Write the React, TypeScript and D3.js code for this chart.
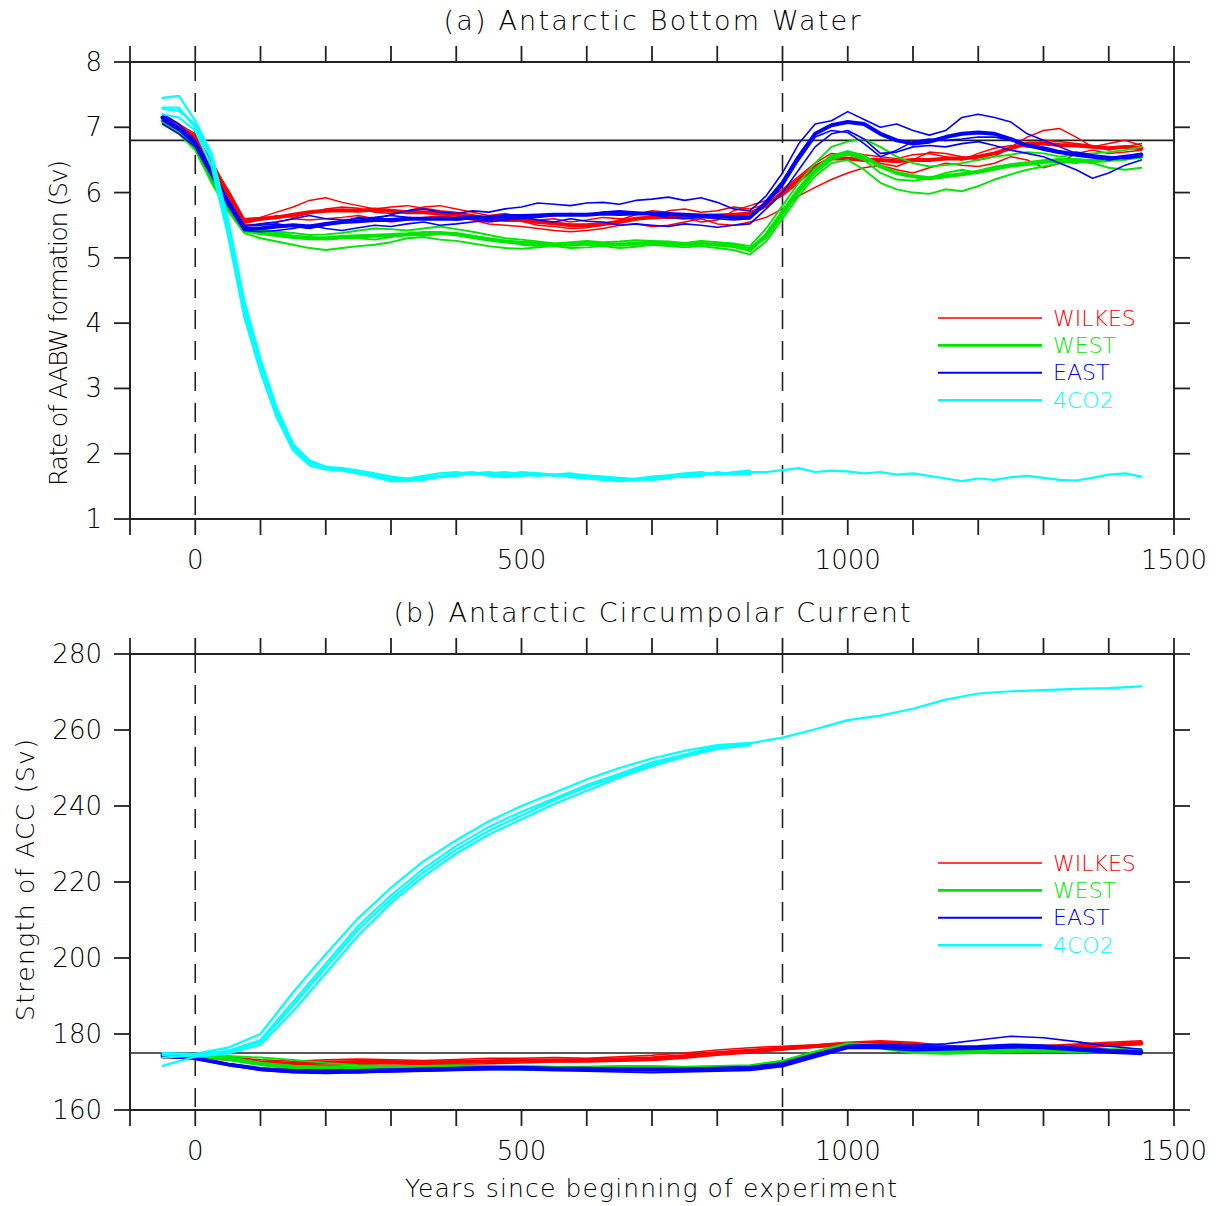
import * as d3 from "d3";

const FONT = "'DejaVu Sans', sans-serif";

// years since beginning of experiment
const X_DOMAIN: [number, number] = [-100, 1500];
const X_TICKS = [-100, 0, 100, 200, 300, 400, 500, 600, 700, 800, 900, 1000, 1100, 1200, 1300, 1400, 1500];
const X_LABELS = [0, 500, 1000, 1500];
const EVENT_YEARS = [0, 900];

const EXPERIMENTS = ["WILKES", "WEST", "EAST", "4CO2"];
const COLORS: Record<string, string> = {
  WILKES: "#ff0000",
  WEST: "#00e600",
  EAST: "#0000ff",
  "4CO2": "#00ffff",
};
const LEGEND_WIDTHS: Record<string, number> = { WILKES: 1.5, WEST: 2.6, EAST: 2, "4CO2": 2.4 };

// ---------- (a) AABW formation, Sv ----------
const YEARS_A = [
  -50, -25, 0, 25, 50, 75, 100, 125, 150, 175,
  200, 225, 250, 275, 300, 325, 350, 375, 400, 425,
  450, 475, 500, 525, 550, 575, 600, 625, 650, 675,
  700, 725, 750, 775, 800, 825, 850, 875, 900, 925,
  950, 975, 1000, 1025, 1050, 1075, 1100, 1125, 1150, 1175,
  1200, 1225, 1250, 1275, 1300, 1325, 1350, 1375, 1400, 1425,
  1450,
];
const Y_TICKS_A = [1, 2, 3, 4, 5, 6, 7, 8];
const REF_A = 6.8;

const WILKES_A_MEAN = [
  7.15, 7.0, 6.85, 6.4, 6.0, 5.55, 5.6, 5.62, 5.66, 5.7,
  5.72, 5.73, 5.72, 5.74, 5.72, 5.7, 5.7, 5.68, 5.66, 5.63,
  5.6, 5.58, 5.58, 5.55, 5.53, 5.5, 5.5, 5.52, 5.55, 5.6,
  5.62, 5.63, 5.62, 5.64, 5.65, 5.66, 5.68, 5.8, 6.0, 6.2,
  6.4, 6.52, 6.52, 6.5, 6.5, 6.48, 6.5, 6.5, 6.52, 6.52,
  6.55, 6.6, 6.68, 6.75, 6.75, 6.73, 6.72, 6.7, 6.68, 6.7,
  6.68,
];
const WILKES_A_M1 = [
  7.2, 7.05, 6.9, 6.45, 6.05, 5.6, 5.62, 5.7, 5.78, 5.88,
  5.92, 5.85, 5.8, 5.75, 5.78, 5.8, 5.76, 5.72, 5.7, 5.66,
  5.62, 5.6, 5.56, 5.5, 5.48, 5.45, 5.46, 5.5, 5.58, 5.66,
  5.72, 5.7, 5.62, 5.55, 5.58, 5.72, 5.8, 5.88, 6.05, 6.25,
  6.45, 6.6, 6.58, 6.52, 6.45, 6.4, 6.5, 6.62, 6.6, 6.55,
  6.5, 6.55, 6.7, 6.85, 6.95, 6.98, 6.85, 6.7, 6.75, 6.8,
  6.72,
];
const WILKES_A_M2 = [
  7.05, 6.95, 6.8, 6.35, 5.95, 5.5, 5.52, 5.55, 5.6, 5.58,
  5.6, 5.62, 5.65, 5.6, 5.55, 5.58, 5.62, 5.64, 5.62, 5.58,
  5.52, 5.5, 5.48, 5.45, 5.42, 5.4, 5.42, 5.45, 5.5, 5.52,
  5.48, 5.5, 5.55, 5.6, 5.52, 5.5, 5.55, 5.62, 5.75, 5.95,
  6.08, 6.2, 6.3, 6.38, 6.42, 6.35, 6.3, 6.38, 6.45, 6.42,
  6.4, 6.45, 6.55, 6.5, 6.38, 6.45, 6.6, 6.65, 6.6, 6.62,
  6.65,
];
const WILKES_A_M3 = [
  7.12, 6.98, 6.88, 6.5, 6.02, 5.58, 5.58, 5.65, 5.62, 5.68,
  5.75, 5.78, 5.76, 5.7, 5.68, 5.72, 5.78, 5.8, 5.75, 5.7,
  5.65, 5.68, 5.62, 5.58, 5.6, 5.55, 5.58, 5.62, 5.6, 5.58,
  5.65, 5.72, 5.75, 5.7, 5.72, 5.78, 5.75, 5.82, 5.95, 6.15,
  6.38, 6.55, 6.62, 6.58, 6.55, 6.52, 6.58, 6.6, 6.55, 6.5,
  6.6, 6.68, 6.72, 6.7, 6.8, 6.78, 6.75, 6.72, 6.65, 6.7,
  6.75,
];

const WEST_A_MEAN = [
  7.1, 6.95, 6.7, 6.2, 5.78, 5.42, 5.38, 5.35, 5.32, 5.3,
  5.3, 5.32, 5.33, 5.34, 5.35, 5.36, 5.38, 5.38, 5.36, 5.32,
  5.28, 5.25, 5.23, 5.22, 5.2, 5.2, 5.22, 5.21, 5.2, 5.22,
  5.23, 5.22, 5.2, 5.22, 5.2, 5.18, 5.12, 5.35, 5.7, 6.05,
  6.35, 6.55, 6.62, 6.55, 6.4, 6.3, 6.25, 6.22, 6.25, 6.28,
  6.32, 6.38, 6.42, 6.45, 6.48, 6.5, 6.5, 6.48, 6.5, 6.52,
  6.55,
];
const WEST_A_M1 = [
  7.05, 6.9, 6.65, 6.15, 5.72, 5.38, 5.3, 5.25, 5.2, 5.15,
  5.12, 5.15, 5.18, 5.2, 5.24, 5.3, 5.32, 5.28, 5.26, 5.22,
  5.18, 5.15, 5.14, 5.16, 5.18, 5.15, 5.16, 5.18, 5.15, 5.17,
  5.2, 5.18, 5.16, 5.18, 5.15, 5.12, 5.05, 5.25, 5.6, 5.95,
  6.25, 6.45, 6.5, 6.35, 6.15, 6.05, 6.0, 5.98, 6.05, 6.02,
  6.1, 6.2, 6.28, 6.35, 6.4, 6.45, 6.48, 6.45, 6.38, 6.35,
  6.38,
];
const WEST_A_M2 = [
  7.15, 7.0, 6.75, 6.25, 5.82, 5.45, 5.42, 5.4, 5.38, 5.35,
  5.36, 5.38, 5.42, 5.45, 5.44, 5.42, 5.45, 5.48, 5.44, 5.4,
  5.35, 5.3, 5.28, 5.25, 5.22, 5.24, 5.26, 5.24, 5.25, 5.27,
  5.26, 5.25, 5.23, 5.26, 5.24, 5.22, 5.18, 5.45, 5.8, 6.15,
  6.45, 6.7, 6.78, 6.82, 6.7, 6.55, 6.45, 6.4, 6.42, 6.45,
  6.5, 6.55, 6.58, 6.62, 6.6, 6.55, 6.58, 6.6, 6.62, 6.65,
  6.7,
];
const WEST_A_M3 = [
  7.08, 6.92, 6.72, 6.22, 5.8, 5.44, 5.36, 5.38, 5.34, 5.32,
  5.28, 5.3, 5.3, 5.28, 5.32, 5.35, 5.34, 5.36, 5.38, 5.34,
  5.3, 5.26, 5.2, 5.18, 5.2, 5.22, 5.2, 5.2, 5.22, 5.2,
  5.24, 5.2, 5.22, 5.2, 5.22, 5.2, 5.15, 5.3, 5.65, 6.0,
  6.3, 6.5, 6.58, 6.5, 6.3, 6.2, 6.18, 6.22, 6.3, 6.35,
  6.3, 6.35, 6.4, 6.42, 6.45, 6.48, 6.45, 6.5, 6.55, 6.5,
  6.58,
];

const EAST_A_MEAN = [
  7.15, 6.98, 6.75, 6.3, 5.85, 5.45, 5.45, 5.48, 5.5, 5.48,
  5.52, 5.55, 5.56, 5.58, 5.58, 5.6, 5.6, 5.6, 5.6, 5.62,
  5.62, 5.64, 5.64, 5.65, 5.66, 5.66, 5.66, 5.68, 5.67, 5.68,
  5.68, 5.67, 5.66, 5.65, 5.64, 5.62, 5.62, 5.85, 6.15, 6.55,
  6.9, 7.03, 7.08, 7.05, 6.9, 6.8, 6.75, 6.78, 6.85, 6.9,
  6.92, 6.9, 6.82, 6.72, 6.68, 6.62, 6.58, 6.55, 6.52, 6.55,
  6.58,
];
const EAST_A_M1 = [
  7.2, 7.05, 6.8, 6.35, 5.9, 5.5, 5.5, 5.52, 5.48, 5.45,
  5.5, 5.55, 5.62, 5.6, 5.66, 5.72, 5.75, 5.7, 5.68, 5.72,
  5.7, 5.75, 5.78, 5.84, 5.82, 5.8, 5.84, 5.85, 5.82, 5.88,
  5.9, 5.93, 5.88, 5.92, 5.85, 5.75, 5.72, 5.95, 6.3, 6.75,
  7.05, 7.1, 7.24, 7.12, 7.0, 7.05, 6.95, 6.88, 6.95, 7.15,
  7.2, 7.15, 7.08, 6.9, 6.8, 6.7, 6.6, 6.55, 6.5, 6.55,
  6.6,
];
const EAST_A_M2 = [
  7.05, 6.9, 6.7, 6.25, 5.8, 5.42, 5.4, 5.42, 5.45, 5.5,
  5.45, 5.42, 5.46, 5.5, 5.48, 5.52, 5.55, 5.5, 5.52, 5.55,
  5.58, 5.6, 5.62, 5.58, 5.55, 5.6, 5.56, 5.55, 5.5, 5.52,
  5.5, 5.48, 5.52, 5.5, 5.47, 5.5, 5.52, 5.75, 6.0, 6.35,
  6.7, 6.9, 6.95, 6.82, 6.6, 6.62, 6.7, 6.72, 6.7, 6.75,
  6.78, 6.72, 6.65, 6.6, 6.55, 6.45, 6.35, 6.22, 6.3, 6.42,
  6.5,
];
const EAST_A_M3 = [
  7.1, 6.95, 6.78, 6.32, 5.88, 5.48, 5.52, 5.55, 5.6, 5.65,
  5.6, 5.58, 5.6, 5.62, 5.65, 5.62, 5.6, 5.62, 5.58, 5.6,
  5.55, 5.58, 5.6, 5.62, 5.65, 5.68, 5.66, 5.7, 5.72, 5.7,
  5.66, 5.62, 5.6, 5.62, 5.6, 5.58, 5.6, 5.82, 6.1, 6.5,
  6.85, 6.95, 6.92, 6.75, 6.55, 6.65, 6.78, 6.82, 6.8, 6.82,
  6.85, 6.85, 6.8, 6.72, 6.65, 6.6, 6.62, 6.58, 6.55, 6.52,
  6.55,
];

const CO2_A_MAIN = [
  7.28, 7.25, 7.05, 6.5, 5.45, 4.2, 3.35, 2.62, 2.1, 1.86,
  1.78, 1.76, 1.72, 1.68, 1.62, 1.6, 1.63, 1.66, 1.68, 1.7,
  1.68, 1.66, 1.7, 1.68, 1.67, 1.66, 1.65, 1.64, 1.62, 1.6,
  1.62, 1.64, 1.66, 1.68, 1.7, 1.7, 1.72, 1.72, 1.75, 1.78,
  1.72, 1.74, 1.73, 1.7, 1.72, 1.68, 1.7, 1.66, 1.62, 1.58,
  1.62, 1.6, 1.64, 1.66, 1.63, 1.6, 1.59, 1.63, 1.68, 1.7,
  1.65,
];
// the other 4CO2 members stop at year 850
const CO2_A_M1 = [
  7.45, 7.48, 7.1, 6.6, 5.6, 4.35, 3.45, 2.7, 2.15, 1.9,
  1.8, 1.75, 1.7, 1.66, 1.6, 1.62, 1.66, 1.7, 1.72, 1.68,
  1.7, 1.72, 1.68, 1.66, 1.68, 1.7, 1.66, 1.62, 1.6, 1.62,
  1.65, 1.67, 1.7, 1.72, 1.68, 1.72, 1.74,
];
const CO2_A_M2 = [
  7.2, 7.15, 6.95, 6.4, 5.35, 4.1, 3.25, 2.55, 2.05, 1.82,
  1.76, 1.74, 1.7, 1.64, 1.58, 1.58, 1.6, 1.65, 1.7, 1.72,
  1.66, 1.64, 1.66, 1.7, 1.68, 1.64, 1.62, 1.6, 1.58, 1.6,
  1.63, 1.66, 1.64, 1.66, 1.72, 1.68, 1.7,
];
const CO2_A_M3 = [
  7.3, 7.3, 7.0, 6.55, 5.5, 4.25, 3.4, 2.65, 2.12, 1.88,
  1.8, 1.78, 1.74, 1.7, 1.65, 1.62, 1.62, 1.64, 1.66, 1.7,
  1.72, 1.68, 1.72, 1.7, 1.66, 1.68, 1.67, 1.65, 1.63, 1.61,
  1.6, 1.62, 1.68, 1.7, 1.68, 1.7, 1.68,
];

// ---------- (b) ACC strength, Sv ----------
const YEARS_B = [
  -50, 0, 50, 100, 150, 200, 250, 300, 350, 400,
  450, 500, 550, 600, 650, 700, 750, 800, 850, 900,
  950, 1000, 1050, 1100, 1150, 1200, 1250, 1300, 1350, 1400,
  1450,
];
const Y_TICKS_B = [160, 180, 200, 220, 240, 260, 280];
const REF_B = 175;

const WILKES_B_MEAN = [
  174, 174, 173.5, 172.5, 172.2, 172.5, 172.6, 172.6, 172.5, 172.6,
  172.8, 173, 173, 173.1, 173.3, 173.6, 174.2, 175, 175.6, 176.2,
  176.8, 177.4, 177.6, 177.2, 176.6, 176.2, 176.2, 176.4, 176.8, 177.2,
  177.6,
];
const WILKES_B_M1 = [
  174.5, 174.2, 174, 173.2, 172.8, 173.2, 173.4, 173.2, 173, 173.3,
  173.6, 173.6, 173.8, 173.6, 174, 174.4, 175, 175.8, 176.4, 176.8,
  177.2, 177.8, 178.2, 177.8, 177, 176.4, 176.6, 177, 177.4, 177.8,
  178.2,
];
const WILKES_B_M2 = [
  173.6, 173.8, 173.2, 172, 171.6, 171.8, 172, 172.2, 172, 172,
  172.2, 172.4, 172.6, 172.6, 172.8, 173, 173.6, 174.4, 175, 175.8,
  176.6, 177, 177.2, 176.8, 176, 175.2, 175.4, 175.8, 176.2, 176.8,
  177.2,
];
const WILKES_B_M3 = [
  174, 174, 173.6, 172.6, 172.4, 172.4, 172.2, 172.6, 172.8, 172.6,
  172.6, 173, 173.2, 173.4, 173.2, 173.5, 174, 175, 175.8, 176,
  176.6, 177.4, 177.8, 177.4, 176.8, 176.4, 176, 176.2, 176.6, 177.2,
  177.4,
];

const WEST_B_MEAN = [
  174.4, 174, 173.6, 172.2, 171.4, 171.2, 171, 171, 171, 171.2,
  171.2, 171.2, 171, 171, 171.2, 171.2, 171, 171.2, 171.4, 172.6,
  175, 177.2, 176.8, 175.6, 175.2, 175.4, 175.6, 175.8, 175.6, 175.6,
  175.6,
];
const WEST_B_M1 = [
  174.8, 174.2, 174.2, 173.8, 173.2, 172.4, 171.8, 171.6, 171.6, 171.8,
  171.6, 171.6, 171.4, 171.4, 171.6, 171.6, 171.4, 171.6, 171.8, 173,
  175.4, 177.6, 177.2, 176, 175.6, 175.8, 176, 176.2, 176, 176,
  176,
];
const WEST_B_M2 = [
  174, 173.8, 173.2, 171.8, 170.8, 170.6, 170.4, 170.6, 170.4, 170.6,
  170.8, 170.6, 170.4, 170.4, 170.6, 170.8, 170.6, 170.8, 171, 172.2,
  174.6, 177, 176.2, 175, 174.8, 175, 175.2, 175.4, 175.2, 175.2,
  175.2,
];
const WEST_B_M3 = [
  174.4, 174, 173.8, 172.4, 171.6, 171.2, 171.2, 171.2, 171, 171.2,
  171.4, 171.4, 171.2, 171, 171.2, 171, 171, 171, 171.4, 172.8,
  175.2, 177.4, 176.6, 175.4, 175.2, 175.6, 175.6, 175.6, 175.8, 175.8,
  175.8,
];

const EAST_B_MEAN = [
  174.4, 173.6, 172, 170.8, 170.2, 170.2, 170.2, 170.4, 170.6, 170.8,
  171, 171, 170.8, 170.8, 170.6, 170.6, 170.6, 170.8, 171, 172,
  174.4, 176.6, 176.8, 176.4, 176.4, 176.6, 177, 176.8, 176.2, 175.6,
  175.2,
];
const EAST_B_M1 = [
  174.8, 173.8, 172.2, 171, 170.6, 170.6, 170.6, 170.8, 171, 171.2,
  171.4, 171.4, 171.2, 171.2, 171, 171, 171, 171.2, 171.4, 172.4,
  174.8, 177, 177.2, 177, 177.4, 178.4, 179.4, 179, 178, 176.8,
  176,
];
const EAST_B_M2 = [
  174, 173.4, 171.8, 170.4, 169.8, 169.6, 169.8, 170, 170.2, 170.4,
  170.6, 170.6, 170.4, 170.2, 170, 169.8, 170, 170.2, 170.4, 171.4,
  173.8, 176.2, 176.2, 175.6, 175.8, 176, 176.4, 176.2, 175.6, 175,
  174.6,
];
const EAST_B_M3 = [
  174.4, 173.6, 172, 170.6, 170, 170, 169.8, 170.2, 170.4, 170.8,
  170.8, 171, 170.8, 170.6, 170.4, 170.4, 170.2, 170.6, 170.8, 171.8,
  174.2, 176.4, 176.6, 176.2, 176, 176.2, 176.6, 176.4, 176, 175.4,
  174.8,
];

const CO2_B_MAIN = [
  174.5, 174.6, 175.6, 178.4, 188.5, 198.5, 208.5, 216.5, 223.5, 229.5,
  234.5, 238.5, 242, 245.5, 248.5, 251.5, 253.5, 255.2, 256.5, 258,
  260.2, 262.6, 263.8, 265.6, 268, 269.6, 270.2, 270.5, 270.8, 271,
  271.5,
];
const CO2_B_M1 = [
  175, 174.8, 176.4, 180, 191, 201, 210.5, 218.5, 225.5, 231,
  236, 240, 243.5, 247, 250, 252.5, 254.5, 256, 256.6,
];
const CO2_B_M2 = [
  171.6, 174, 174.8, 177.2, 186, 196, 206, 214.5, 221.5, 227.5,
  232.5, 236.5, 240.5, 244, 247.5, 250.5, 253, 255, 256,
];
const CO2_B_M3 = [
  173.8, 174.4, 175.2, 178, 187.5, 197.5, 207.5, 215.5, 222.5, 228.5,
  233.5, 237.5, 241.5, 245, 248, 251, 253.5, 255.8, 256.2,
];

type Run = { years: number[]; values: number[]; color: string; width: number };

const MEMBER_WIDTH: Record<string, number> = { WILKES: 1.5, WEST: 1.9, EAST: 1.6, "4CO2": 2.2 };
const MEAN_WIDTH = 4;

const group = (name: string, years: number[], members: number[][], mean: number[] | null, co2 = false): Run[] => {
  const runs: Run[] = members.map((values) => ({ years, values, color: COLORS[name], width: MEMBER_WIDTH[name] }));
  if (mean) runs.push({ years, values: mean, color: COLORS[name], width: co2 ? 2.2 : MEAN_WIDTH });
  return runs;
};

const RUNS_A: Run[] = [
  ...group("WILKES", YEARS_A, [WILKES_A_M1, WILKES_A_M2, WILKES_A_M3], WILKES_A_MEAN),
  ...group("WEST", YEARS_A, [WEST_A_M1, WEST_A_M2, WEST_A_M3], WEST_A_MEAN),
  ...group("EAST", YEARS_A, [EAST_A_M1, EAST_A_M2, EAST_A_M3], EAST_A_MEAN),
  ...group("4CO2", YEARS_A, [CO2_A_M1, CO2_A_M2, CO2_A_M3], CO2_A_MAIN, true),
];
const RUNS_B: Run[] = [
  ...group("WILKES", YEARS_B, [WILKES_B_M1, WILKES_B_M2, WILKES_B_M3], WILKES_B_MEAN),
  ...group("WEST", YEARS_B, [WEST_B_M1, WEST_B_M2, WEST_B_M3], WEST_B_MEAN),
  ...group("EAST", YEARS_B, [EAST_B_M1, EAST_B_M2, EAST_B_M3], EAST_B_MEAN),
  ...group("4CO2", YEARS_B, [CO2_B_M1, CO2_B_M2, CO2_B_M3], CO2_B_MAIN, true),
];

const PLOT_LEFT = 130;
const PLOT_RIGHT = 1174;
const TICK = 16;

const Panel = ({
  top,
  bottom,
  yDomain,
  yTicks,
  refValue,
  runs,
  title,
  titleLen,
  yLabel,
  yLabelX,
  yLabelY,
  yLabelLen,
  legendTop,
}: {
  top: number;
  bottom: number;
  yDomain: [number, number];
  yTicks: number[];
  refValue: number;
  runs: Run[];
  title: string;
  titleLen: number;
  yLabel: string;
  yLabelX: number;
  yLabelY: number;
  yLabelLen: number;
  legendTop: number;
}) => {
  const x = d3.scaleLinear().domain(X_DOMAIN).range([PLOT_LEFT, PLOT_RIGHT]);
  const y = d3.scaleLinear().domain(yDomain).range([bottom, top]);
  const line = d3
    .line<[number, number]>()
    .x((d) => x(d[0]))
    .y((d) => y(d[1]));
  const midX = (PLOT_LEFT + PLOT_RIGHT) / 2;

  return (
    <g>
      <text
        x={midX}
        y={top - 42}
        textAnchor="middle"
        dominantBaseline="central"
        fontSize={27}
        fontWeight={200}
        textLength={titleLen}
        lengthAdjust="spacing"
      >
        {title}
      </text>

      {/* event markers */}
      {EVENT_YEARS.map((yr) => (
        <line
          key={yr}
          x1={x(yr)}
          x2={x(yr)}
          y1={top}
          y2={bottom}
          stroke="#222"
          strokeWidth={1.6}
          strokeDasharray="19 12"
        />
      ))}

      <line x1={PLOT_LEFT} x2={PLOT_RIGHT} y1={y(refValue)} y2={y(refValue)} stroke="#222" strokeWidth={1.6} />

      {runs.map((r, i) => (
        <path
          key={i}
          d={line(d3.zip(r.years, r.values) as [number, number][]) ?? undefined}
          fill="none"
          stroke={r.color}
          strokeWidth={r.width}
          strokeLinejoin="round"
          strokeLinecap="round"
        />
      ))}

      <rect
        x={PLOT_LEFT}
        y={top}
        width={PLOT_RIGHT - PLOT_LEFT}
        height={bottom - top}
        fill="none"
        stroke="#222"
        strokeWidth={2}
      />

      {/* x ticks, pointing outwards top and bottom */}
      {X_TICKS.map((t) => (
        <g key={t}>
          <line x1={x(t)} x2={x(t)} y1={top} y2={top - TICK} stroke="#222" strokeWidth={1.8} />
          <line x1={x(t)} x2={x(t)} y1={bottom} y2={bottom + TICK} stroke="#222" strokeWidth={1.8} />
        </g>
      ))}
      {X_LABELS.map((t) => (
        <text key={t} x={x(t)} y={bottom + 41} textAnchor="middle" dominantBaseline="central" fontSize={26} fontWeight={200}>
          {t}
        </text>
      ))}

      {/* y ticks, left and right */}
      {yTicks.map((t) => (
        <g key={t}>
          <line x1={PLOT_LEFT} x2={PLOT_LEFT - TICK} y1={y(t)} y2={y(t)} stroke="#222" strokeWidth={1.8} />
          <line x1={PLOT_RIGHT} x2={PLOT_RIGHT + TICK} y1={y(t)} y2={y(t)} stroke="#222" strokeWidth={1.8} />
          <text x={102} y={y(t)} textAnchor="end" dominantBaseline="central" fontSize={26} fontWeight={200}>
            {t}
          </text>
        </g>
      ))}

      <text
        transform={`translate(${yLabelX}, ${yLabelY}) rotate(-90)`}
        textAnchor="middle"
        dominantBaseline="central"
        fontSize={25}
        fontWeight={200}
        textLength={yLabelLen}
        lengthAdjust="spacing"
      >
        {yLabel}
      </text>

      {/* legend */}
      {EXPERIMENTS.map((name, i) => (
        <g key={name} transform={`translate(0, ${legendTop + i * 27.4})`}>
          <line x1={938} x2={1042} y1={0} y2={0} stroke={COLORS[name]} strokeWidth={LEGEND_WIDTHS[name]} />
          <text x={1053} y={0} dominantBaseline="central" fontSize={22} fontWeight={200} fill={COLORS[name]}>
            {name}
          </text>
        </g>
      ))}
    </g>
  );
};

export default function App() {
  return (
    <svg
      width={1216}
      height={1206}
      style={{ position: "absolute", left: 0, top: 0, background: "#fff", fontFamily: FONT }}
    >
      <rect width={1216} height={1206} fill="#fff" />
      <Panel
        top={62}
        bottom={519}
        yDomain={[1, 8]}
        yTicks={Y_TICKS_A}
        refValue={REF_A}
        runs={RUNS_A}
        title="(a) Antarctic Bottom Water"
        titleLen={417}
        yLabel="Rate of AABW formation (Sv)"
        yLabelX={58}
        yLabelY={323}
        yLabelLen={326}
        legendTop={318}
      />
      <Panel
        top={654}
        bottom={1110}
        yDomain={[160, 280]}
        yTicks={Y_TICKS_B}
        refValue={REF_B}
        runs={RUNS_B}
        title="(b) Antarctic Circumpolar Current"
        titleLen={517}
        yLabel="Strength of ACC (Sv)"
        yLabelX={25}
        yLabelY={880}
        yLabelLen={282}
        legendTop={863}
      />
      <text
        x={651}
        y={1188}
        textAnchor="middle"
        dominantBaseline="central"
        fontSize={25}
        fontWeight={200}
        textLength={492}
        lengthAdjust="spacing"
      >
        Years since beginning of experiment
      </text>
    </svg>
  );
}
